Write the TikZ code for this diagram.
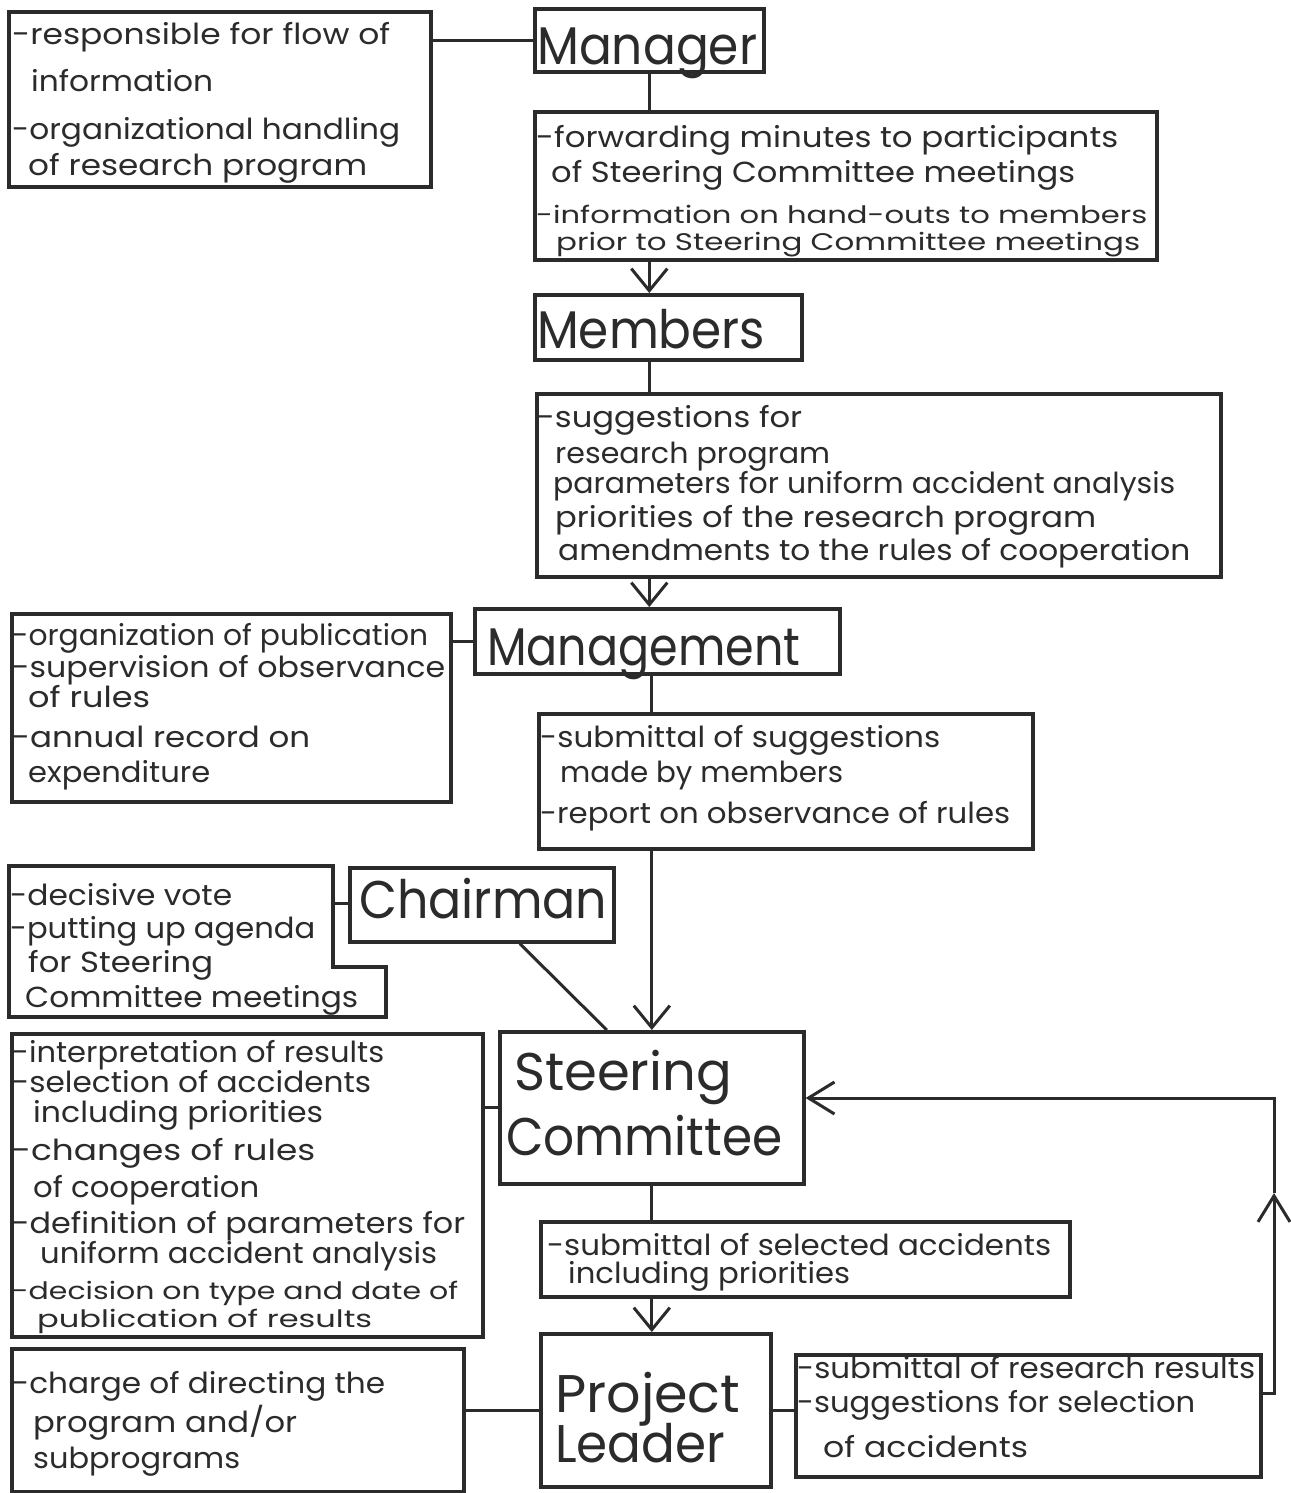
\documentclass[tikz,border=0pt]{standalone}
\usepackage{fontspec}
\setmainfont{Poppins}
\usetikzlibrary{arrows.meta,calc}
\definecolor{ink}{HTML}{2B2B2B}
\newcommand\tline[5]{\node[txt] (#1) at (#2,#3) {\resizebox{#4pt}{\height}{#5}};}
\newcommand\sline[5]{\node[txt, font=\fontsize{24}{28}\selectfont] (#1) at (#2,#3) {\resizebox{#4pt}{\height}{#5}};}
\newcommand\ttline[5]{\node[ttl] (#1) at (#2,#3) {\resizebox{#4pt}{\height}{#5}};}
\begin{document}
\begin{tikzpicture}[x=1pt,y=-1pt,
  box/.style={draw=ink, line width=3.6pt, rectangle, inner sep=0pt, anchor=north west},
  con/.style={draw=ink, line width=3pt},
  arr/.style={con, -{Straight Barb[length=22pt,width=36pt]}},
  txt/.style={anchor=base west, inner sep=0pt, text=ink, font=\fontsize{29}{34}\selectfont},
  ttl/.style={anchor=base west, inner sep=0pt, text=ink, font=\fontsize{53}{60}\selectfont}]
\useasboundingbox[fill=white] (0,0) rectangle (1290,1493);

% boxes
\node[box, minimum width=422, minimum height=175] (b1) at (7,10) {};
\node[box, minimum width=229, minimum height=63] (mgr) at (533,7) {};
\node[box, minimum width=622, minimum height=148] (b2) at (533,110) {};
\node[box, minimum width=267, minimum height=65] (mem) at (533,293) {};
\node[box, minimum width=684, minimum height=183] (b3) at (535,392) {};
\node[box, minimum width=365, minimum height=65] (mgt) at (473,607) {};
\node[box, minimum width=439, minimum height=188] (b4) at (10,612) {};
\node[box, minimum width=494, minimum height=135] (b5) at (537,712) {};
\node[box, minimum width=264, minimum height=74] (chair) at (348,866) {};
\node[box, minimum width=304, minimum height=152] (sc) at (498,1030) {};
\node[box, minimum width=471, minimum height=303] (b6) at (10,1032) {};
\node[box, minimum width=529, minimum height=75] (b7) at (539,1220) {};
\node[box, minimum width=230, minimum height=153] (pl) at (539,1332) {};
\node[box, minimum width=452, minimum height=143] (b8) at (10,1347) {};
\node[box, minimum width=465, minimum height=122] (b9) at (794,1353) {};
% L-shaped chairman duty box
\draw[draw=ink, line width=3.6pt, line join=miter] (9,866) -- (333,866) -- (333,967) -- (386,967) -- (386,1017) -- (9,1017) -- cycle;
\coordinate (chE) at (333,903);

% titles
\ttline{tmgr}{537}{65}{220}{Manager}
\ttline{tmem}{537}{348}{228}{Members}
\ttline{tmgt}{487}{665}{313}{Management}
\ttline{tchair}{359}{918}{248}{Chairman}
\ttline{tsc1}{514}{1090}{218}{Steering}
\ttline{tsc2}{506}{1155}{276}{Committee}
\ttline{tpl1}{555}{1412}{185}{Project}
\ttline{tpl2}{555}{1462}{170}{Leader}

% box 1
\tline{t1a}{12}{45}{378}{-responsible for flow of}
\tline{t1b}{31}{92}{182}{information}
\tline{t1c}{12}{140}{388}{-organizational handling}
\tline{t1d}{28}{175}{339}{of research program}
% box 2
\tline{t2a}{536}{147}{582}{-forwarding minutes to participants}
\tline{t2b}{551}{182}{524}{of Steering Committee meetings}
\sline{t2c}{536}{223}{611}{-information on hand-outs to members}
\sline{t2d}{556}{250}{584}{prior to Steering Committee meetings}
% box 3
\tline{t3a}{537}{427}{265}{-suggestions for}
\tline{t3b}{555}{463}{275}{research program}
\tline{t3c}{553}{493}{622}{parameters for uniform accident analysis}
\tline{t3d}{555}{527}{541}{priorities of the research program}
\tline{t3e}{558}{560}{632}{amendments to the rules of cooperation}
% box 4
\tline{t4a}{12}{645}{416}{-organization of publication}
\tline{t4b}{12}{677}{433}{-supervision of observance}
\tline{t4c}{28}{707}{122}{of rules}
\tline{t4d}{12}{747}{298}{-annual record on}
\tline{t4e}{28}{782}{182}{expenditure}
% box 5
\tline{t5a}{540}{747}{400}{-submittal of suggestions}
\tline{t5b}{560}{782}{283}{made by members}
\tline{t5c}{540}{823}{470}{-report on observance of rules}
% chairman duties
\tline{tca}{10}{905}{222}{-decisive vote}
\tline{tcb}{10}{938}{305}{-putting up agenda}
\tline{tcc}{28}{972}{185}{for Steering}
\tline{tcd}{25}{1007}{333}{Committee meetings}
% box 6
\tline{t6a}{12}{1062}{372}{-interpretation of results}
\tline{t6b}{12}{1092}{359}{-selection of accidents}
\tline{t6c}{33}{1122}{290}{including priorities}
\tline{t6d}{12}{1160}{303}{-changes of rules}
\tline{t6e}{33}{1197}{226}{of cooperation}
\tline{t6f}{12}{1233}{453}{-definition of parameters for}
\tline{t6g}{40}{1263}{397}{uniform accident analysis}
\sline{t6h}{12}{1299}{446}{-decision on type and date of}
\sline{t6i}{37}{1327}{335}{publication of results}
% box 7
\tline{t7a}{547}{1255}{504}{-submittal of selected accidents}
\tline{t7b}{568}{1283}{282}{including priorities}
% box 8
\tline{t8a}{12}{1393}{373}{-charge of directing the}
\tline{t8b}{33}{1432}{264}{program and/or}
\tline{t8c}{33}{1468}{207}{subprograms}
% box 9
\tline{t9a}{797}{1378}{458}{-submittal of research results}
\tline{t9b}{797}{1412}{398}{-suggestions for selection}
\tline{t9c}{823}{1457}{205}{of accidents}

% connectors
\draw[con] (b1.east |- mgr.west) -- (mgr.west);
\draw[con] (mgr.south) -- (mgr.south |- b2.north);
\draw[arr] (b2.south -| mgr.south) -- (mem.north -| mgr.south);
\draw[con] (mem.south -| mgr.south) -- (b3.north -| mgr.south);
\draw[arr] (b3.south -| mgr.south) -- (mgt.north -| mgr.south);
\draw[con] (b4.east |- mgt.west) -- (mgt.west);
\draw[con] (mgt.south -| sc.north) -- (b5.north -| sc.north);
\draw[arr] (b5.south -| sc.north) -- (sc.north);
\draw[con] (chE) -- (chE -| chair.west);
\draw[con] ($(chair.south)+(38,0)$) -- ($(sc.north)+(-45,0)$);
\draw[con] (b6.east |- sc.west) -- (sc.west);
\draw[con] (sc.south) -- (sc.south |- b7.north);
\draw[arr] (b7.south -| sc.south) -- (pl.north -| sc.south);
\draw[con] (b8.east |- pl.west) -- (pl.west);
\draw[con] (pl.east) -- (pl.east -| b9.west);
% feedback loop
\coordinate (fbA) at (1274,1393);
\coordinate (fbM) at (1274,1193);
\coordinate (fbT) at (1274,1098);
\draw[con, -{Straight Barb[length=26pt,width=32pt]}] (b9.east |- fbA) -- (fbA) -- (fbM);
\draw[con, -{Straight Barb[length=26pt,width=32pt]}] (fbM) -- (fbT) -- (fbT -| sc.east);
\end{tikzpicture}
\end{document}
